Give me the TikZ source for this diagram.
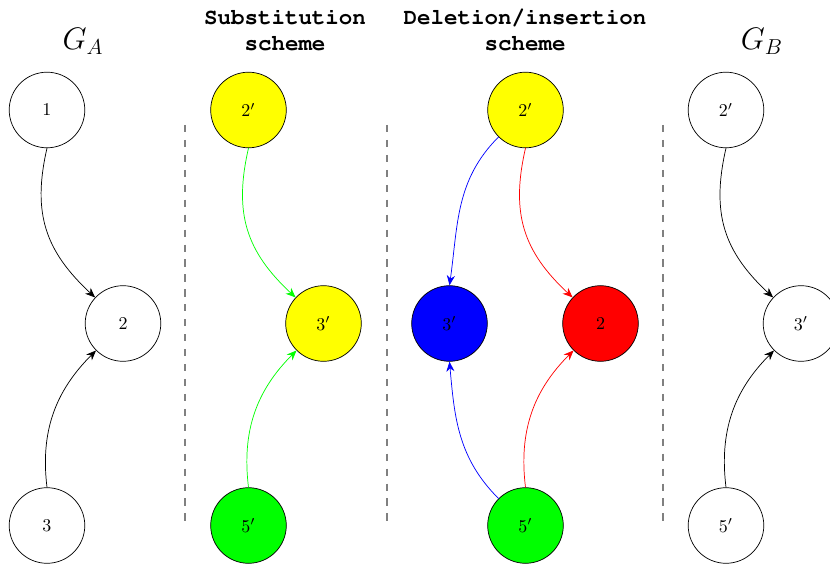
\documentclass[tikz,border=0pt]{standalone}
\usepackage[T1]{fontenc}
\usepackage{courier}
\usetikzlibrary{arrows.meta}
\definecolor{keptyellow}{RGB}{255,255,0}
\definecolor{keptgreen}{RGB}{0,255,0}
\tikzstyle{vertex}=[draw, circle, minimum size=42pt, inner sep=0pt]
\tikzstyle{arc}=[-{Stealth[length=5.5pt, width=4.5pt]}]
\tikzstyle{falling arc}=[arc, out=-103, in=137, looseness=1.1]
\tikzstyle{rising arc}=[arc, out=97, in=-135]
\tikzstyle{separator}=[gray, line width=1.1pt, dash pattern=on 4pt off 4.3pt]
\tikzstyle{title}=[font=\fontsize{12.5}{14.2}\selectfont\ttfamily\bfseries, align=center]
\tikzstyle{graph name}=[font=\LARGE, anchor=base]
\begin{document}
\begin{tikzpicture}[x=0.5556pt, y=-0.5556pt]
  \useasboundingbox (0, 0) rectangle (830, 565);

  % titles
  \node[graph name] (name A) at (83, 50) {$G_A$};
  \node[title] (title sub) at (285, 30) {Substitution\\scheme};
  \node[title] (title del) at (525, 30) {Deletion/insertion\\scheme};
  \node[graph name] (name B) at (762, 50) {$G_B$};

  % G_A
  \node[vertex] (a1) at (47, 110) {$1$};
  \node[vertex] (a2) at (123, 323.5) {$2$};
  \node[vertex] (a3) at (47, 525.5) {$3$};
  \draw[falling arc] (a1.south) to (a2);
  \draw[rising arc] (a3.north) to (a2);

  % substitution scheme
  \node[vertex, fill=keptyellow] (s2) at (248.5, 110) {$2'$};
  \node[vertex, fill=keptyellow] (s3) at (323.5, 323.5) {$3'$};
  \node[vertex, fill=keptgreen] (s5) at (248.5, 525.5) {$5'$};
  \draw[falling arc, keptgreen] (s2.south) to (s3);
  \draw[rising arc, keptgreen] (s5.north) to (s3);

  % deletion/insertion scheme
  \node[vertex, fill=keptyellow] (d2) at (525.5, 110) {$2'$};
  \node[vertex, fill=blue] (d3) at (449.5, 323.5) {$3'$};
  \node[vertex, fill=red] (dtwo) at (600.5, 323.5) {$2$};
  \node[vertex, fill=keptgreen] (d5) at (525.5, 525.5) {$5'$};
  \draw[arc, blue] (d2) to[out=-135, in=82] (d3.north);
  \draw[arc, blue] (d5) to[out=135, in=-85] (d3.south);
  \draw[falling arc, red] (d2.south) to (dtwo);
  \draw[rising arc, red] (d5.north) to (dtwo);

  % G_B
  \node[vertex] (b2) at (726, 110) {$2'$};
  \node[vertex] (b3) at (801, 323.5) {$3'$};
  \node[vertex] (b5) at (726, 525.5) {$5'$};
  \draw[falling arc] (b2.south) to (b3);
  \draw[rising arc] (b5.north) to (b3);

  % separators
  \draw[separator] (185, 125) -- (185, 525);
  \draw[separator] (387, 125) -- (387, 525);
  \draw[separator] (663, 125) -- (663, 525);
\end{tikzpicture}
\end{document}
